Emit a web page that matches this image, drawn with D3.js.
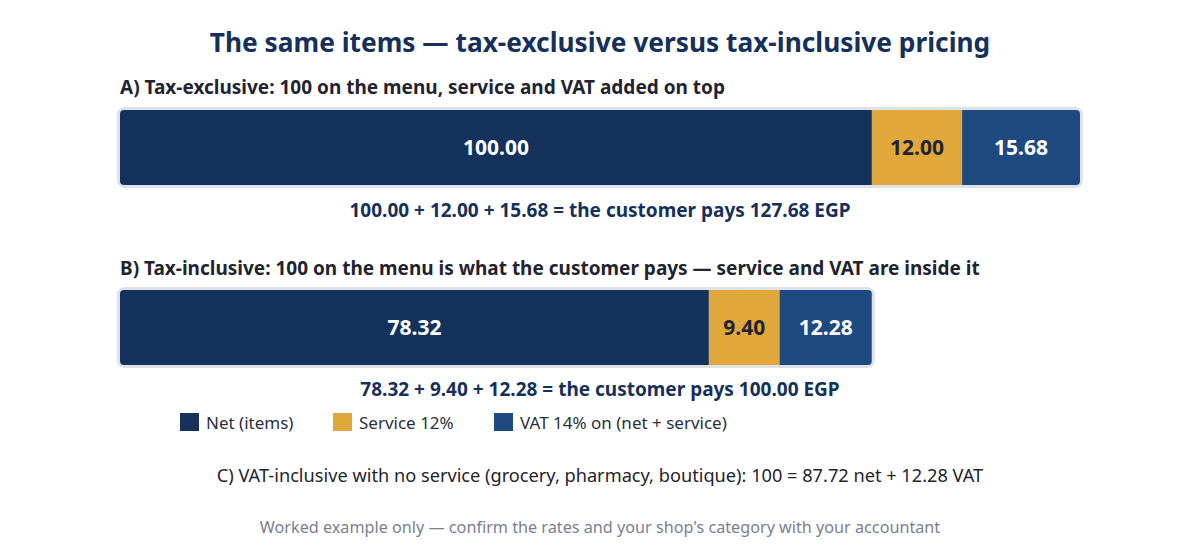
<!DOCTYPE html>
<html><head><meta charset="utf-8">
<script src="https://cdn.jsdelivr.net/npm/d3@7"></script>
<style>body{margin:0;background:#fff;font-family:"Noto Sans",sans-serif;}</style>
</head><body><svg id="c" width="1200" height="560"></svg>
<script>
const components = ["Net (items)", "Service 12%", "VAT 14% on (net + service)"];
const colors = ["#14325c", "#e0a73b", "#1f4a80"];
const labelColors = ["#ffffff", "#1f2430", "#ffffff"];
const scenarioA = [100.00, 12.00, 15.68];
const scenarioB = [78.32, 9.40, 12.28];
const titles = ["A) Tax-exclusive: 100 on the menu, service and VAT added on top",
  "B) Tax-inclusive: 100 on the menu is what the customer pays \u2014 service and VAT are inside it"];
const totals = ["127.68", "100.00"];

const svg = d3.select("#c");
const x = d3.scaleLinear().domain([0, 127.68]).range([120, 1080]);

svg.append("text").attr("x", 600).attr("y", 52).attr("text-anchor", "middle")
  .attr("font-size", 26.3).attr("font-weight", 700).attr("fill", "#15305a")
  .text("The same items \u2014 tax-exclusive versus tax-inclusive pricing");

const rows = [
  {vals: scenarioA, title: titles[0], total: totals[0], y0: 110, ty: 94, sy: 217},
  {vals: scenarioB, title: titles[1], total: totals[1], y0: 290, ty: 275, sy: 396}
];
const h = 75;
rows.forEach((r, i) => {
  svg.append("text").attr("x", 120).attr("y", r.ty).attr("font-size", 19).attr("font-weight", 700)
    .attr("fill", "#1f2430").text(r.title);
  const sum = d3.sum(r.vals);
  svg.append("rect").attr("x", x(0) - 1.5).attr("y", r.y0 - 1.5)
    .attr("width", x(sum) - x(0) + 3).attr("height", h + 3).attr("rx", 6)
    .attr("fill", "none").attr("stroke", "#dde1ea").attr("stroke-width", 3);
  const cid = "clip" + i;
  svg.append("clipPath").attr("id", cid).append("rect")
    .attr("x", x(0)).attr("y", r.y0).attr("width", x(sum) - x(0)).attr("height", h).attr("rx", 4);
  const g = svg.append("g").attr("clip-path", `url(#${cid})`);
  let acc = 0;
  const segs = r.vals.map((v, k) => { const s = {v, k, a: acc}; acc += v; return s; });
  g.selectAll("rect").data(segs).join("rect")
    .attr("x", d => x(d.a)).attr("y", r.y0)
    .attr("width", d => x(d.a + d.v) - x(d.a)).attr("height", h)
    .attr("fill", d => colors[d.k]);
  svg.selectAll(null).data(segs).join("text")
    .attr("x", d => (x(d.a) + x(d.a + d.v)) / 2).attr("y", r.y0 + h / 2 + 7.5)
    .attr("text-anchor", "middle").attr("font-size", 21).attr("font-weight", 700)
    .attr("fill", d => labelColors[d.k]).text(d => d.v.toFixed(2));
  svg.append("text").attr("x", 600).attr("y", r.sy).attr("text-anchor", "middle")
    .attr("font-size", 19).attr("font-weight", 700).attr("fill", "#15305a")
    .text(r.vals.map(v => v.toFixed(2)).join(" + ") + " = the customer pays " + r.total + " EGP");
});

const legX = [180, 333, 494];
const lg = svg.append("g");
components.forEach((c, k) => {
  lg.append("rect").attr("x", legX[k]).attr("y", 413).attr("width", 19).attr("height", 18).attr("fill", colors[k]);
  lg.append("text").attr("x", legX[k] + 26).attr("y", 428.5).attr("font-size", 17).attr("fill", "#2a2f3a").text(c);
});

svg.append("text").attr("x", 600).attr("y", 482).attr("text-anchor", "middle")
  .attr("font-size", 18.2).attr("fill", "#1f2430")
  .text("C) VAT-inclusive with no service (grocery, pharmacy, boutique): 100 = 87.72 net + 12.28 VAT");
svg.append("text").attr("x", 600).attr("y", 533).attr("text-anchor", "middle")
  .attr("font-size", 16.2).attr("fill", "#7a8090")
  .text("Worked example only \u2014 confirm the rates and your shop's category with your accountant");
</script></body></html>
